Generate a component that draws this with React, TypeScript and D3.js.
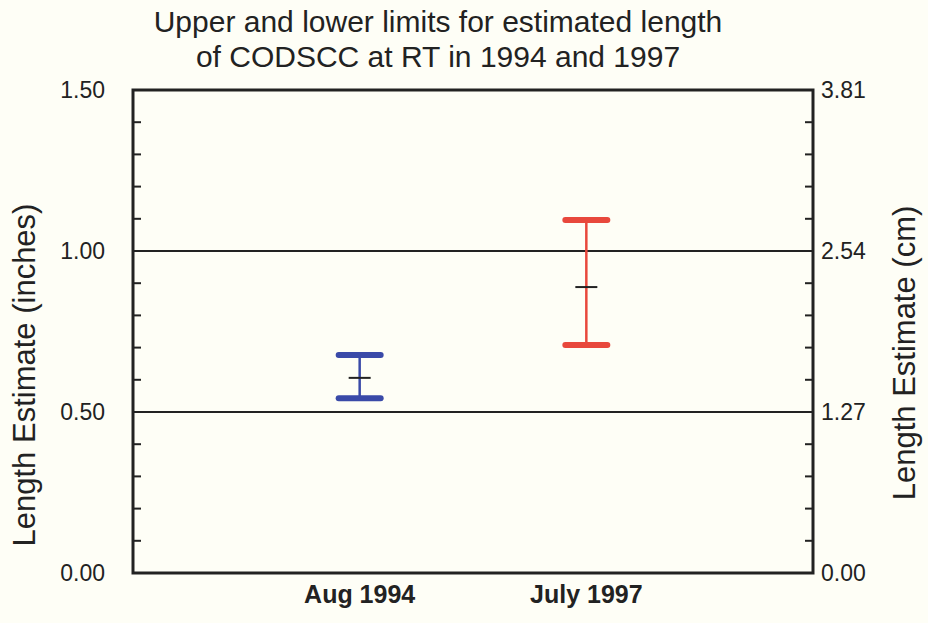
import React from "react";
import * as d3 from "d3";

const categories = ["Aug 1994", "July 1997"];
const upper = [0.677, 1.096];
const lower = [0.543, 0.708];
const estimate = [0.606, 0.888];
const colors = ["#3a4aa8", "#e8483c"];
const leftTicks = [0, 0.5, 1.0, 1.5];
const rightLabels = ["0.00", "1.27", "2.54", "3.81"];
const refLines = [0.5, 1.0];
const titleLines = ["Upper and lower limits for estimated length", "of CODSCC at RT in 1994 and 1997"];

const W = 928;
const H = 623;
const margin = { top: 90, right: 115, bottom: 50, left: 133 };

export default function App() {
  const iw = W - margin.left - margin.right;
  const ih = H - margin.top - margin.bottom;

  const y = d3.scaleLinear().domain([0, 1.5]).range([ih, 0]);
  const x = d3.scalePoint<string>().domain(["", ...categories, " "]).range([0, iw]).padding(0);

  const minor = d3.range(0, 1.5001, 0.1);
  const font = "Arial, 'Liberation Sans', sans-serif";

  return (
    <svg width={W} height={H} style={{ position: "absolute", left: 0, top: 0, background: "#fefef6" }}>
      <g fontFamily={font} fill="#222">
        {titleLines.map((t, i) => (
          <text key={t} x={438} y={32 + i * 35} textAnchor="middle" fontSize={30}>
            {t}
          </text>
        ))}
      </g>
      <g transform={`translate(${margin.left},${margin.top})`} fontFamily={font}>
        {refLines.map((v) => (
          <line key={v} x1={0} x2={iw} y1={y(v)} y2={y(v)} stroke="#222" strokeWidth={2.2} />
        ))}
        {minor.map((v, i) => (
          <g key={i}>
            <line x1={0} x2={8} y1={y(v)} y2={y(v)} stroke="#222" strokeWidth={2} />
            <line x1={iw - 8} x2={iw} y1={y(v)} y2={y(v)} stroke="#222" strokeWidth={2} />
          </g>
        ))}
        <rect x={0} y={0} width={iw} height={ih} fill="none" stroke="#222" strokeWidth={3} />
        {leftTicks.map((v, i) => (
          <g key={v}>
            <text x={-28} y={y(v)} dy="0.36em" textAnchor="end" fontSize={23} fill="#222">
              {d3.format(".2f")(v)}
            </text>
            <text x={iw + 8} y={y(v)} dy="0.36em" textAnchor="start" fontSize={23} fill="#222">
              {rightLabels[i]}
            </text>
          </g>
        ))}
        {categories.map((c, i) => {
          const cx = x(c) as number;
          return (
            <g key={c}>
              <line x1={cx} x2={cx} y1={y(upper[i])} y2={y(lower[i])} stroke={colors[i]} strokeWidth={2.5} />
              <line x1={cx - 21} x2={cx + 21} y1={y(upper[i])} y2={y(upper[i])} stroke={colors[i]} strokeWidth={6} strokeLinecap="round" />
              <line x1={cx - 21} x2={cx + 21} y1={y(lower[i])} y2={y(lower[i])} stroke={colors[i]} strokeWidth={6} strokeLinecap="round" />
              <line x1={cx - 11} x2={cx + 11} y1={y(estimate[i])} y2={y(estimate[i])} stroke="#222" strokeWidth={2} />
              <text x={cx} y={ih + 30} textAnchor="middle" fontSize={25} fontWeight="bold" fill="#222">
                {c}
              </text>
            </g>
          );
        })}
      </g>
      <text transform={`translate(35,375) rotate(-90)`} textAnchor="middle" fontFamily={font} fontSize={31} fill="#222">
        Length Estimate (inches)
      </text>
      <text transform={`translate(915,353) rotate(-90)`} textAnchor="middle" fontFamily={font} fontSize={31} fill="#222">
        Length Estimate (cm)
      </text>
    </svg>
  );
}
